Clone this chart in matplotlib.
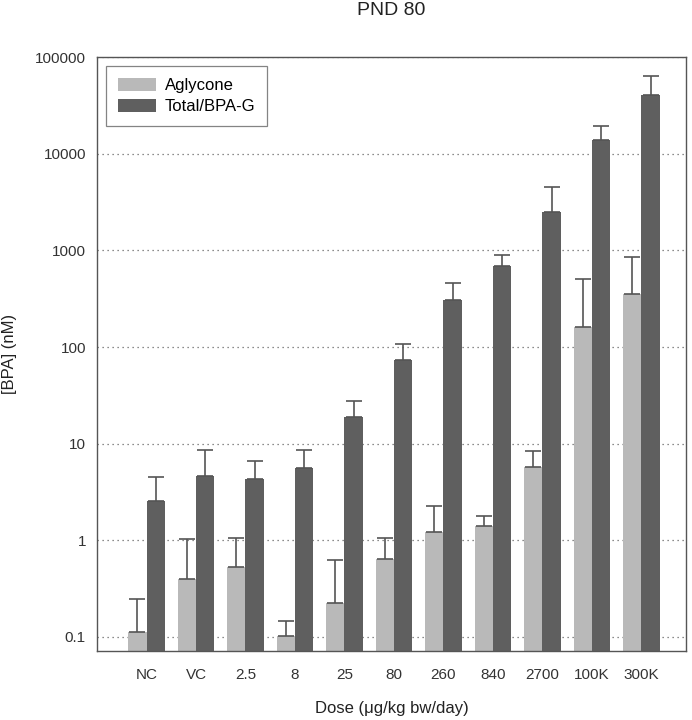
import numpy as np
import matplotlib
matplotlib.use('Agg')
import matplotlib.pyplot as plt

plt.rcParams['font.family'] = ['Liberation Sans', 'DejaVu Sans']

doses = ['NC', 'VC', '2.5', '8', '25', '80', '260', '840', '2700', '100K', '300K']
aglycone = [0.113, 0.395, 0.53, 0.102, 0.226, 0.64, 1.22, 1.41, 5.7, 160, 355]
aglycone_err_top = [0.245, 1.03, 1.06, 0.145, 0.62, 1.05, 2.25, 1.77, 8.3, 500, 845]
total = [2.55, 4.62, 4.34, 5.56, 19.0, 73, 303, 681, 2520, 13700, 40300]
total_err_top = [4.55, 8.7, 6.66, 8.6, 27.6, 107, 461, 892, 4470, 19250, 63300]

light = '#b9b9b9'
dark = '#5f5f5f'

fig = plt.figure(figsize=(6.92, 7.2), dpi=100)
ax = fig.add_axes([0.1402, 0.0958, 0.8511, 0.825])

x = np.arange(len(doses))
w = 0.37
ag = np.array(aglycone)
tt = np.array(total)
ag_err = np.array(aglycone_err_top) - ag
tt_err = np.array(total_err_top) - tt

ax.bar(x - w / 2, ag, w, color=light, label='Aglycone', zorder=2)
ax.bar(x + w / 2, tt, w, color=dark, label='Total/BPA-G', zorder=2)
ax.errorbar(x - w / 2, ag, yerr=[np.zeros_like(ag), ag_err], fmt='none',
            ecolor='#555555', elinewidth=1.2, capsize=6, capthick=1.2, zorder=3)
ax.errorbar(x + w / 2, tt, yerr=[np.zeros_like(tt), tt_err], fmt='none',
            ecolor='#555555', elinewidth=1.2, capsize=6, capthick=1.2, zorder=3)

ax.set_yscale('log')
ax.set_ylim(0.0716, 100000)
ax.set_xlim(-1.0, 10.9)
ax.set_yticks([0.1, 1, 10, 100, 1000, 10000, 100000])
ax.set_yticklabels(['0.1', '1', '10', '100', '1000', '10000', '100000'])
ax.yaxis.set_minor_locator(matplotlib.ticker.NullLocator())
ax.set_xticks(x)
ax.set_xticklabels(doses)
ax.tick_params(length=0, labelsize=11, labelcolor='#333333')
ax.tick_params(axis='x', pad=12)
ax.tick_params(axis='y', pad=8)
ax.grid(axis='y', linestyle=(0, (1, 3)), color='#666666', linewidth=0.9, zorder=0)

for s in ax.spines.values():
    s.set_color('#555555')
    s.set_linewidth(1.0)

ax.set_title('PND 80', fontsize=14, pad=30, color='#222222')
ax.set_ylabel('[BPA] (nM)', fontsize=12, color='#222222')
ax.yaxis.set_label_coords(-0.136, 0.5)
ax.set_xlabel('Dose (\u03bcg/kg bw/day)', fontsize=12, labelpad=14, color='#222222')

leg = ax.legend(loc='upper left', fontsize=12, fancybox=False, edgecolor='#666666',
                handlelength=2.3, handleheight=0.8, handletextpad=0.5, borderpad=0.7,
                labelspacing=0.35, bbox_to_anchor=(0.0, 1.0), borderaxespad=0.55)
leg.get_frame().set_linewidth(0.9)

fig.savefig('out.png', dpi=100)
